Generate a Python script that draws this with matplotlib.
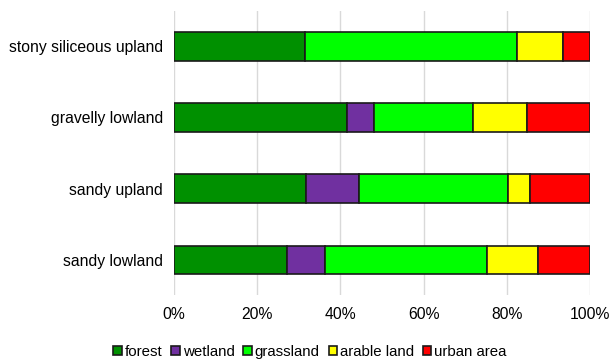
import matplotlib
matplotlib.use("Agg")
import matplotlib.pyplot as plt
import numpy as np
from matplotlib.ticker import PercentFormatter

plt.rcParams['font.family'] = ['Liberation Sans', 'DejaVu Sans']

categories = ["sandy lowland", "sandy upland", "gravelly lowland", "stony siliceous upland"]
land_uses = ["forest", "wetland", "grassland", "arable land", "urban area"]
colors = ["#009000", "#7030a0", "#00ff00", "#ffff00", "#ff0000"]

forest = [27.1, 31.8, 41.5, 31.4]
wetland = [9.3, 12.6, 6.7, 0.0]
grassland = [38.8, 36.0, 23.7, 51.0]
arable = [12.4, 5.2, 13.1, 11.2]
urban = [12.4, 14.4, 15.0, 6.4]

series = [forest, wetland, grassland, arable, urban]

fig = plt.figure(figsize=(6.1, 3.63), dpi=100)
ax = fig.add_axes([0.2852, 0.1862, 0.6818, 0.7843])

y = np.arange(len(categories))
left = np.zeros(len(categories))
for name, vals, c in zip(land_uses, series, colors):
    vals = np.array(vals)
    ax.barh(y, vals, left=left, height=0.4, color=c, edgecolor="#1a1a1a",
            linewidth=1.2, label=name, zorder=3)
    left += vals

ax.set_xlim(0, 100)
ax.set_ylim(-0.5, len(categories) - 0.5)
ax.set_xticks(np.arange(0, 101, 20))
ax.xaxis.set_major_formatter(PercentFormatter(decimals=0))
ax.set_yticks(y)
ax.set_yticklabels(categories)
ax.grid(axis="x", color="#d9d9d9", linewidth=1.0, zorder=0)
for s in ax.spines.values():
    s.set_visible(False)
ax.tick_params(axis="both", length=0, labelsize=11.3, colors="#000000")
ax.tick_params(axis="x", pad=8)
ax.tick_params(axis="y", pad=8)

handles, labels = ax.get_legend_handles_labels()
fig.legend(handles, labels, loc="center", bbox_to_anchor=(310 / 610, 1 - 352 / 363),
           ncol=5, frameon=False, fontsize=10.8, handlelength=0.55, handleheight=0.55,
           handletextpad=0.2, columnspacing=0.6, borderpad=0)

fig.savefig("out.png", dpi=100)
